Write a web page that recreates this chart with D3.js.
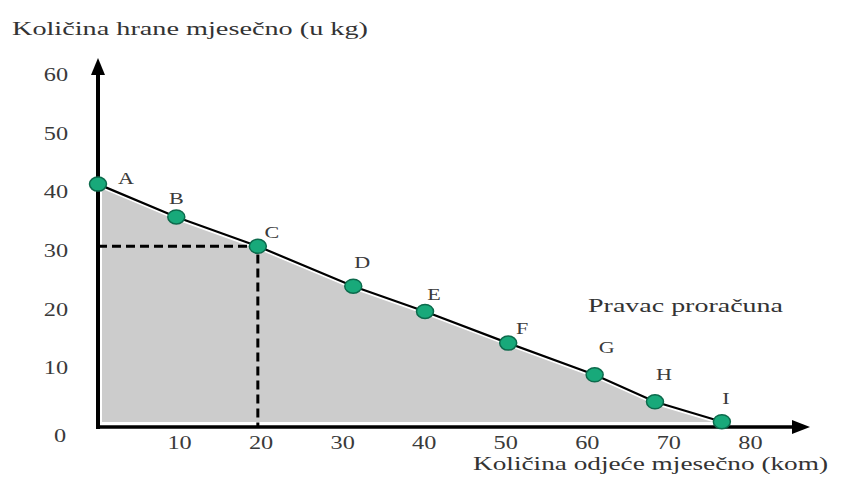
<!DOCTYPE html>
<html><head><meta charset="utf-8">
<script src="https://cdn.jsdelivr.net/npm/d3@7"></script>
<style>html,body{margin:0;padding:0;background:#fff;}svg{display:block;}</style>
</head><body>
<svg id="c" width="842" height="479"></svg>
<script>
// ---- data ----
const pointNames = ["A","B","C","D","E","F","G","H","I"];
const clothes = [0, 9.6, 19.6, 31.3, 40.1, 50.3, 60.9, 68.3, 76.5];     // kom
const food    = [41.4, 35.8, 30.8, 24.0, 19.7, 14.3, 8.9, 4.3, 0.9];    // kg
const xTicks = [10, 20, 30, 40, 50, 60, 70, 80];
const yTicks = [10, 20, 30, 40, 50, 60];
const yTitle = "Količina hrane mjesečno (u kg)";
const xTitle = "Količina odjeće mjesečno (kom)";
const lineLabel = "Pravac proračuna";
const refIndex = 2; // point C with dashed guides

// ---- layout ----
const svg = d3.select("#c");
const x = d3.scaleLinear().domain([0, 80]).range([98, 98 + 80 * 8.155]);
const y = d3.scaleLinear().domain([0, 60]).range([427, 75]);
const FONT = "'Liberation Serif','Times New Roman',serif";
const SX = 1.35;
const pts = clothes.map((c, i) => ({name: pointNames[i], x: c, y: food[i]}));

function txt(tx, ty, s, opts = {}) {
  const g = svg.append("g").attr("transform", `translate(${tx},${ty}) scale(${opts.sx || SX},1)`);
  g.append("text").text(s)
    .attr("font-family", FONT)
    .attr("font-size", opts.size || 18)
    .attr("fill", opts.fill || "#3a3a3a")
    .attr("text-anchor", opts.anchor || "middle")
    .attr("dominant-baseline", "central");
  return g;
}

// grey region under budget line
svg.append("clipPath").attr("id", "clipA").append("rect")
  .attr("x", x(0) + 4).attr("y", 0).attr("width", 842).attr("height", y(0) - 5);
const area = d3.area().x(d => x(d.x)).y0(y(0)).y1(d => y(d.y) + 3);
svg.append("path").datum(pts).attr("d", area)
  .attr("fill", "#cccccc").attr("clip-path", "url(#clipA)");

// dashed guides to C
const cp = pts[refIndex];
svg.append("path")
  .attr("d", `M${x(0)},${y(cp.y)}H${x(cp.x)}V${y(0)}`)
  .attr("fill", "none").attr("stroke", "#000").attr("stroke-width", 3)
  .attr("stroke-dasharray", "9,5");

// axes
const axTop = 58, axRight = 810;
svg.append("line").attr("x1", x(0)).attr("x2", x(0)).attr("y1", axTop + 12).attr("y2", y(0) + 2)
  .attr("stroke", "#000").attr("stroke-width", 4);
svg.append("path").attr("d", `M${x(0)},${axTop}L${x(0) - 7},${axTop + 17}L${x(0) + 7},${axTop + 17}Z`).attr("fill", "#000");
svg.append("line").attr("x1", x(0) - 2).attr("x2", axRight - 12).attr("y1", y(0)).attr("y2", y(0))
  .attr("stroke", "#000").attr("stroke-width", 3.5);
svg.append("path").attr("d", `M${axRight},${y(0)}L${axRight - 18},${y(0) - 7}L${axRight - 18},${y(0) + 7}Z`).attr("fill", "#000");

// budget line
svg.append("path").datum(pts)
  .attr("d", d3.line().x(d => x(d.x)).y(d => y(d.y)))
  .attr("fill", "none").attr("stroke", "#000").attr("stroke-width", 2.2);

// points
svg.selectAll("ellipse.pt").data(pts).join("ellipse").attr("class", "pt")
  .attr("cx", d => x(d.x)).attr("cy", d => y(d.y))
  .attr("rx", 8.5).attr("ry", 7)
  .attr("fill", "#18a97a").attr("stroke", "#0c6a4c").attr("stroke-width", 1.5);

// point letters
const letterOffsets = [[28,-6],[0,-19],[14,-14],[9,-24],[9,-17],[14,-15],[12,-28],[9,-28],[4,-24]];
pts.forEach((p, i) => {
  txt(x(p.x) + letterOffsets[i][0], y(p.y) + letterOffsets[i][1], p.name, {size: 17, sx: 1.3});
});

// tick labels
xTicks.forEach(v => txt(x(v), y(0) + 16, String(v)));
yTicks.forEach(v => txt(x(0) - 42, y(v), String(v)));
txt(x(0) - 38, y(0) + 9, "0");

// titles
function longText(tx, ty, s, len, size) {
  svg.append("text").text(s).attr("x", tx).attr("y", ty)
    .attr("font-family", FONT).attr("font-size", size).attr("fill", "#333")
    .attr("dominant-baseline", "central")
    .attr("textLength", len).attr("lengthAdjust", "spacingAndGlyphs");
}
longText(12, 28, yTitle, 356, 19);
longText(473, 463, xTitle, 355, 19);
longText(588, 305, lineLabel, 195, 19);
</script>
</body></html>
